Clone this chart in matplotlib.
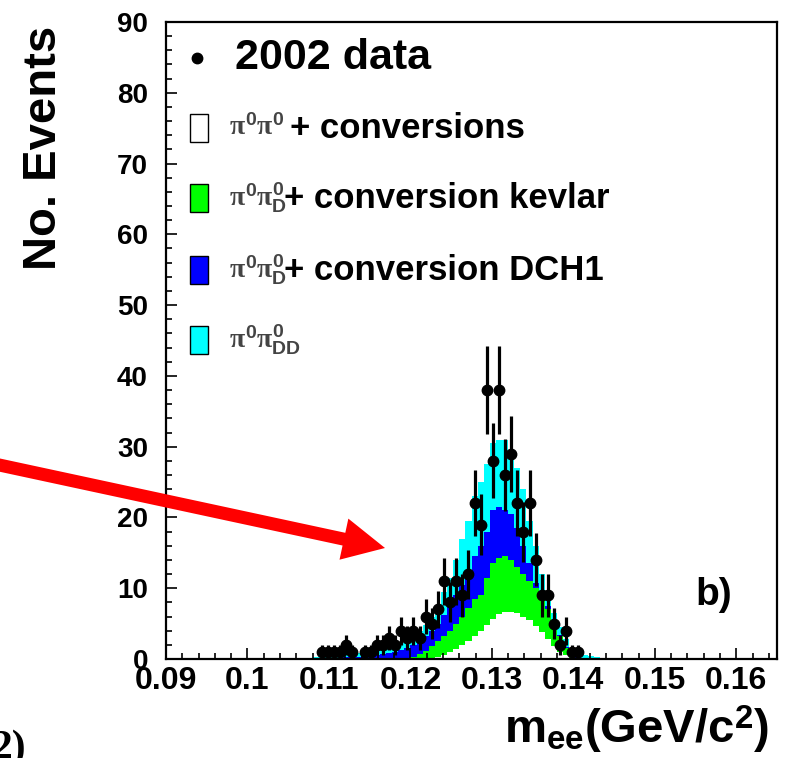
import numpy as np
import matplotlib
matplotlib.use("Agg")
import matplotlib.pyplot as plt
from matplotlib.patches import FancyArrow, Rectangle
from matplotlib.ticker import MultipleLocator

# ---------------- data ----------------
x_min, x_max, n_bins = 0.09, 0.165, 100
first_bin = 24  # index of the first listed bin

# cumulative stack levels (top of each coloured layer), bins 24..71
stack_dd = [0.3, 0.4, 0.5, 0.5, 0.6, 0.7, 0.8, 0.9, 1.0, 1.1,
            1.2, 1.4, 1.6, 1.9, 2.3, 2.8, 3.4, 4.0, 4.8, 6.0,
            7.5, 9.5, 11.5, 14.0, 17.0, 19.5, 23.0, 25.0, 27.5, 30.5,
            31.0, 31.0, 29.5, 27.0, 24.0, 19.5, 16.0, 12.0, 9.0, 6.5,
            4.5, 2.8, 1.6, 0.9, 0.6, 0.4, 0.3, 0.2]
stack_dch1 = [0.1, 0.1, 0.15, 0.2, 0.2, 0.25, 0.3, 0.35, 0.4, 0.5,
              0.6, 0.7, 0.8, 1.0, 1.3, 1.6, 2.0, 2.5, 3.2, 4.0,
              5.0, 6.2, 7.6, 9.0, 10.5, 12.5, 14.5, 16.0, 18.0, 21.0,
              21.5, 21.0, 20.5, 18.5, 16.0, 13.5, 10.8, 9.0, 7.5, 5.3,
              3.4, 1.7, 0.8, 0.3, 0.1, 0.0, 0.0, 0.0]
stack_kevlar = [0, 0, 0, 0, 0, 0, 0, 0, 0, 0,
                0, 0, 0, 0, 0, 0.1, 0.3, 0.7, 1.2, 1.8,
                2.5, 3.3, 4.0, 5.0, 6.0, 7.2, 8.5, 9.0, 11.5, 13.5,
                14.3, 14.5, 14.0, 13.0, 12.0, 11.0, 10.0, 8.5, 7.0, 5.0,
                3.2, 1.5, 0.6, 0.2, 0, 0, 0, 0]
stack_conv = [0, 0, 0, 0, 0, 0, 0, 0, 0, 0,
              0, 0, 0, 0, 0, 0, 0, 0, 0, 0,
              0.3, 0.6, 1.0, 1.4, 2.0, 2.6, 3.3, 4.0, 4.8, 5.6,
              6.3, 6.7, 6.7, 6.5, 6.0, 5.5, 4.7, 3.8, 2.8, 1.8,
              1.0, 0.5, 0.2, 0, 0, 0, 0, 0]
data_counts = [0, 1, 1, 1, 1, 2, 1, 0, 1, 1,
               2, 2, 3, 2, 4, 3, 4, 3, 6, 5,
               7, 11, 8, 11, 9, 12, 22, 19, 38, 28,
               38, 26, 29, 22, 18, 22, 14, 9, 9, 5,
               2, 4, 1, 1, 0, 0, 0, 0]

legend_labels = [r"$\pi^{\mathrm{0}}\pi^{\mathrm{0}}$",
                 r"$\pi^{\mathrm{0}}\pi^{\mathrm{0}}_{\mathrm{D}}$",
                 r"$\pi^{\mathrm{0}}\pi^{\mathrm{0}}_{\mathrm{D}}$",
                 r"$\pi^{\mathrm{0}}\pi^{\mathrm{0}}_{\mathrm{DD}}$"]
legend_suffix = ["+ conversions", "+ conversion kevlar", "+ conversion DCH1", ""]
colors = ["white", "#00ff00", "#0000ff", "#00ffff"]

x_ticks = [0.09, 0.10, 0.11, 0.12, 0.13, 0.14, 0.15, 0.16]
x_ticklabels = ["0.09", "0.1", "0.11", "0.12", "0.13", "0.14", "0.15", "0.16"]
y_ticks = [0, 10, 20, 30, 40, 50, 60, 70, 80, 90]

# ---------------- style ----------------
plt.rcParams["font.family"] = ["Liberation Sans", "DejaVu Sans"]
plt.rcParams["font.weight"] = "bold"
plt.rcParams["mathtext.fontset"] = "custom"
plt.rcParams["mathtext.rm"] = "Liberation Sans"
plt.rcParams["mathtext.it"] = "Liberation Serif"
plt.rcParams["mathtext.bf"] = "Liberation Sans:bold"

W, H = 786, 758
fig = plt.figure(figsize=(W / 100, H / 100), dpi=100)


def fx(px):
    return px / W


def fy(py):
    return 1 - py / H


ax_l, ax_r, ax_t, ax_b = 166, 777, 22, 659
ax = fig.add_axes([fx(ax_l), fy(ax_b), fx(ax_r - ax_l), (ax_b - ax_t) / H])

edges = np.linspace(x_min, x_max, n_bins + 1)
centers = 0.5 * (edges[:-1] + edges[1:])
bw = edges[1] - edges[0]


def full(arr):
    h = np.zeros(n_bins)
    h[first_bin:first_bin + len(arr)] = arr
    return h


for vals, col in [(stack_dd, colors[3]), (stack_dch1, colors[2]),
                  (stack_kevlar, colors[1]), (stack_conv, colors[0])]:
    ax.stairs(full(vals), edges, fill=True, color=col, linewidth=0, zorder=1)

cnt = full(data_counts)
m = cnt > 0
ax.errorbar(centers[m], cnt[m], yerr=np.sqrt(cnt[m]), xerr=bw / 2,
            fmt="o", color="black", ms=7.5, elinewidth=2.3, capsize=0, zorder=3)

ax.set_xlim(x_min, x_max)
ax.set_ylim(0, 90)
ax.set_xticks(x_ticks)
ax.set_xticklabels(x_ticklabels)
ax.set_yticks(y_ticks)
ax.xaxis.set_minor_locator(MultipleLocator(0.002))
ax.yaxis.set_minor_locator(MultipleLocator(2))
ax.tick_params(axis="both", which="both", direction="in", top=False, right=False,
               width=1.2, color="black")
ax.tick_params(axis="both", which="major", length=8)
ax.tick_params(axis="both", which="minor", length=4.5)
ax.tick_params(axis="x", which="major", labelsize=23, pad=5)
ax.tick_params(axis="y", which="major", labelsize=20, pad=13)
for lab in ax.get_xticklabels() + ax.get_yticklabels():
    lab.set_fontweight("bold")
for sp in ax.spines.values():
    sp.set_linewidth(1.6)

# axis titles
fig.text(fx(44), fy(148), "No. Events", rotation=90, ha="center", va="center",
         fontsize=34, fontweight="bold")
fig.text(fx(769), fy(743), r"m$_{\mathbf{ee}}$(GeV/c$^{\mathbf{2}}$)", ha="right",
         va="baseline", fontsize=34, fontweight="bold")

# legend
fig.add_artist(plt.Line2D([fx(197)], [fy(58)], marker="o", ms=7.5, color="black",
                          transform=fig.transFigure))
fig.text(fx(235), fy(58), "2002 data", ha="left", va="center", fontsize=31,
         fontweight="bold")
rows_y = [128, 198, 270, 340]
suffix_x = [290, 284, 284, 284]
for i, yy in enumerate(rows_y):
    fig.add_artist(Rectangle((fx(190), fy(yy + 14)), fx(18), 28 / H,
                             facecolor=colors[i], edgecolor="black", linewidth=1.0,
                             transform=fig.transFigure))
    fig.text(fx(229), fy(yy), legend_labels[i], ha="left", va="center",
             fontsize=20, color="#444444")
    if legend_suffix[i]:
        fig.text(fx(suffix_x[i]), fy(yy), legend_suffix[i], ha="left", va="center",
                 fontsize=25, fontweight="bold")

fig.text(fx(695), fy(605), "b)", ha="left", va="baseline", fontsize=28,
         fontweight="bold")

# red arrow (figure inches)
x0, y0 = -0.10, (H - 463) / 100
x1, y1 = 3.85, (H - 548) / 100
fig.add_artist(FancyArrow(x0, y0, x1 - x0, y1 - y0, width=0.13, head_width=0.42,
                          head_length=0.42, length_includes_head=True,
                          color="#ff0000", linewidth=0,
                          transform=fig.dpi_scale_trans))

fig.text(fx(-9), fy(759), "2)", ha="left", va="baseline", fontsize=30,
         fontweight="bold", family="Liberation Serif")

fig.savefig("out.png", dpi=100)
